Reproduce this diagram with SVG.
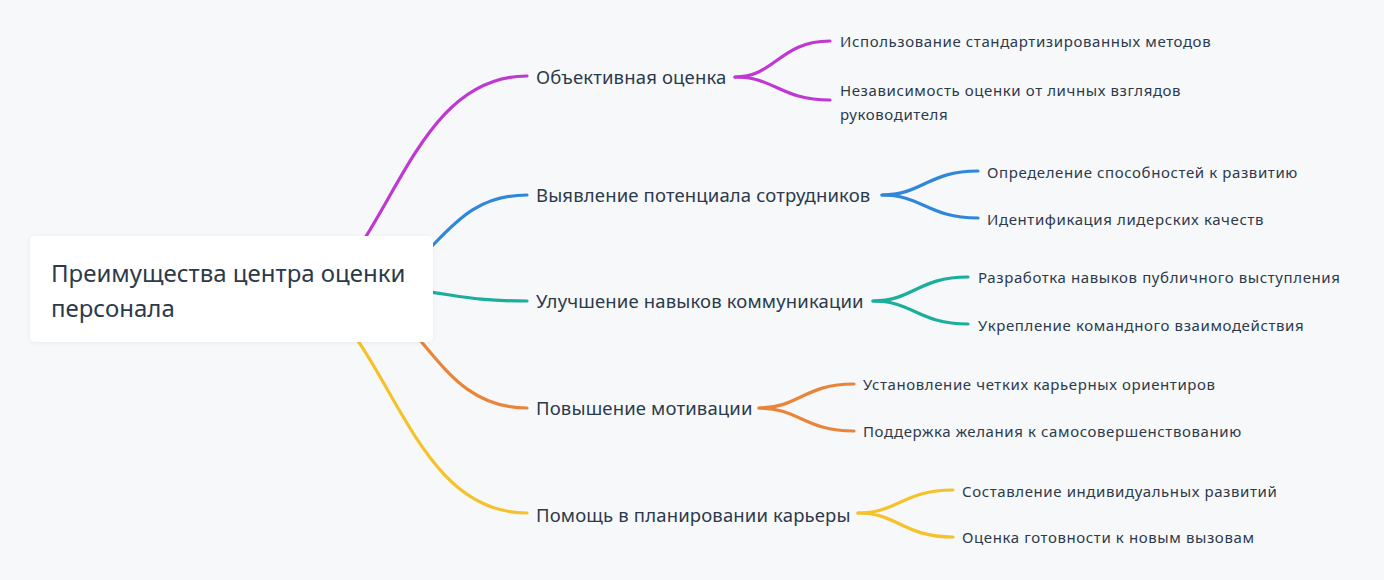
<svg xmlns="http://www.w3.org/2000/svg" width="1384" height="580" viewBox="0 0 1384 580">
<defs>
<style>
.bg{fill:#f7f8fa}
.ln{fill:none;stroke-width:3.2;stroke-linecap:round}
.p{stroke:#c038d2}.b{stroke:#2f87dc}.t{stroke:#1bae9c}.o{stroke:#e9853b}.y{stroke:#f6c22b}
text{font-family:"Noto Sans","Open Sans","DejaVu Sans",sans-serif;fill:#2c3a4b}
.root{font-size:24px}
.main{font-size:18.5px;letter-spacing:0.15px}
.leaf{font-size:15px;letter-spacing:0.6px}
.box{fill:#ffffff}
</style>
<filter id="sh" x="-10%" y="-20%" width="120%" height="140%">
<feDropShadow dx="0" dy="1" stdDeviation="2" flood-color="#000" flood-opacity="0.06"/>
</filter>
</defs>
<rect class="bg" x="0" y="0" width="1384" height="580"/>
<g id="connectors">
<path class="ln p" d="M250,320 C388.5,320 388.5,76 527,76"/>
<path class="ln b" d="M345,289 C436,289 436,195 527,195"/>
<path class="ln t" d="M373,289 C450,289 450,301 527,301"/>
<path class="ln o" d="M327,289 C427,289 427,408 527,408"/>
<path class="ln y" d="M250,270 C388.5,270 388.5,513 527,513"/>
<path class="ln p" d="M735,77 C775,77 780,41 830,41"/>
<path class="ln p" d="M735,77 C775,77 780,100 830,100"/>
<path class="ln b" d="M882,195 C922,195 928,171 978,171"/>
<path class="ln b" d="M882,195 C922,195 928,218 978,218"/>
<path class="ln t" d="M873,301 C913,301 918,277 968,277"/>
<path class="ln t" d="M873,301 C913,301 918,324 968,324"/>
<path class="ln o" d="M759,408 C799,408 804,384 854,384"/>
<path class="ln o" d="M759,408 C799,408 804,431 854,431"/>
<path class="ln y" d="M858,513 C898,513 903,490 953,490"/>
<path class="ln y" d="M858,513 C898,513 903,537 953,537"/>
</g>
<g id="root">
<rect class="box" x="30" y="236" width="403" height="106" rx="5" filter="url(#sh)"/>
<text class="root" x="51" y="282">Преимущества центра оценки</text>
<text class="root" x="51" y="317">персонала</text>
</g>
<g id="n1"><text class="main" x="536" y="84">Объективная оценка</text></g>
<g id="n1a"><text class="leaf" x="840" y="47">Использование стандартизированных методов</text></g>
<g id="n1b"><text class="leaf" x="840" y="95.5">Независимость оценки от личных взглядов</text><text class="leaf" x="840" y="119.5">руководителя</text></g>
<g id="n2"><text class="main" x="536" y="202">Выявление потенциала сотрудников</text></g>
<g id="n2a"><text class="leaf" x="987" y="177.5">Определение способностей к развитию</text></g>
<g id="n2b"><text class="leaf" x="987" y="224.5">Идентификация лидерских качеств</text></g>
<g id="n3"><text class="main" x="536" y="308">Улучшение навыков коммуникации</text></g>
<g id="n3a"><text class="leaf" x="978" y="283">Разработка навыков публичного выступления</text></g>
<g id="n3b"><text class="leaf" x="978" y="330.5">Укрепление командного взаимодействия</text></g>
<g id="n4"><text class="main" x="536" y="415">Повышение мотивации</text></g>
<g id="n4a"><text class="leaf" x="863" y="390">Установление четких карьерных ориентиров</text></g>
<g id="n4b"><text class="leaf" x="863" y="437">Поддержка желания к самосовершенствованию</text></g>
<g id="n5"><text class="main" x="536" y="522">Помощь в планировании карьеры</text></g>
<g id="n5a"><text class="leaf" x="962" y="496.5">Составление индивидуальных развитий</text></g>
<g id="n5b"><text class="leaf" x="962" y="543">Оценка готовности к новым вызовам</text></g>
</svg>
